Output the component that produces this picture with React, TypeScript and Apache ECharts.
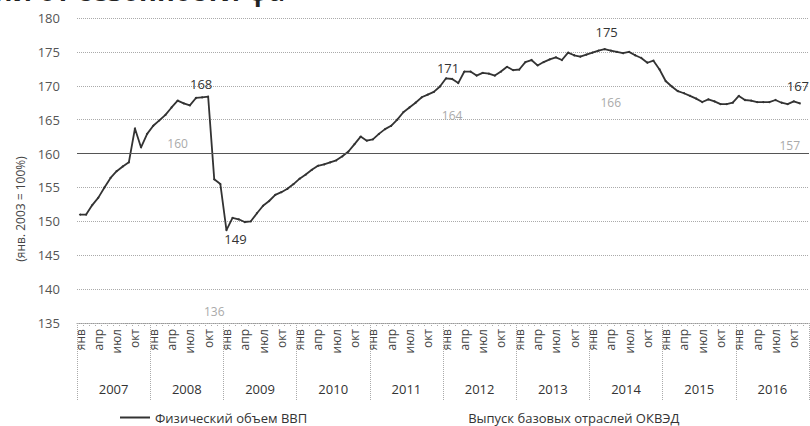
import React, { useEffect, useRef } from 'react';
import * as echarts from 'echarts';

const years = ['2007', '2008', '2009', '2010', '2011', '2012', '2013', '2014', '2015', '2016'];
const monthNames = ['янв', 'фев', 'мар', 'апр', 'май', 'июн', 'июл', 'авг', 'сен', 'окт', 'ноя', 'дек'];
const months = years.flatMap((y) => monthNames.map((m) => `${m} ${y}`));

// Физический объем ВВП, янв 2007 – ноя 2016
const gdpValues = [
  151.0, 151.0, 152.4, 153.5, 155.0, 156.4, 157.4, 158.1, 158.7, 163.7, 160.9, 162.9,
  164.1, 164.9, 165.7, 166.8, 167.8, 167.4, 167.1, 168.2, 168.3, 168.4, 156.2, 155.5,
  148.7, 150.5, 150.3, 149.9, 150.0, 151.2, 152.3, 153.0, 153.9, 154.3, 154.8, 155.5,
  156.3, 156.9, 157.6, 158.2, 158.4, 158.7, 159.0, 159.6, 160.3, 161.4, 162.5, 161.9,
  162.1, 162.9, 163.6, 164.1, 165.0, 166.1, 166.8, 167.5, 168.3, 168.7, 169.1, 169.9,
  171.1, 171.0, 170.4, 172.1, 172.1, 171.5, 171.9, 171.8, 171.5, 172.1, 172.8, 172.3,
  172.4, 173.5, 173.8, 173.0, 173.5, 173.9, 174.2, 173.8, 174.9, 174.5, 174.3, 174.6,
  174.9, 175.2, 175.4, 175.2, 175.0, 174.8, 175.0, 174.5, 174.1, 173.4, 173.7, 172.4,
  170.7, 169.9, 169.2, 168.9, 168.5, 168.1, 167.6, 168.0, 167.7, 167.3, 167.3, 167.5,
  168.5, 167.9, 167.8, 167.6, 167.6, 167.6, 167.9, 167.5, 167.3, 167.7, 167.4,
];
const gdpLabelMonths = ['окт 2008', 'янв 2009', 'янв 2012', 'мар 2014', 'ноя 2016'];

// Выпуск базовых отраслей ОКВЭД (only the labelled points are legible)
const baseMonths = ['май 2008', 'ноя 2008', 'фев 2012', 'апр 2014', 'окт 2016'];
const baseValues = [160, 136, 164, 166, 157];

const seriesNames = ['Физический объем ВВП', 'Выпуск базовых отраслей ОКВЭД'];
const yTitle = '(янв. 2003 = 100%)';
const headText = 'ии от сезонности фа';

const FONT = '"Open Sans", "Noto Sans", sans-serif';

export default function App() {
  const ref = useRef<HTMLDivElement>(null);
  useEffect(() => {
    if (!ref.current) return;
    const chart = echarts.init(ref.current, null, { renderer: 'svg' });

    const gdpLabelStyle: Record<string, any> = {
      'окт 2008': { position: 'top', offset: [-7, 0] },
      'янв 2009': { position: 'bottom', offset: [9, -4] },
      'янв 2012': { position: 'top', offset: [2, 2] },
      'мар 2014': { position: 'top', offset: [2, -5] },
      'ноя 2016': { position: 'top', offset: [-2, -5] },
    };
    const baseLabelStyle: Record<string, any> = {
      'ноя 2008': { offset: [0, 6] },
      'окт 2016': { offset: [-4, -18] },
    };

    const gdpData = gdpValues.map((v, i) => {
      const m = months[i];
      if (gdpLabelMonths.includes(m)) {
        return {
          value: v,
          label: {
            show: true,
            formatter: (p: any) => String(Math.round(p.value)),
            ...gdpLabelStyle[m],
          },
        };
      }
      return v;
    });

    const baseData = months.map((m) => {
      const k = baseMonths.indexOf(m);
      if (k < 0) return null;
      return {
        value: baseValues[k],
        label: { show: true, ...(baseLabelStyle[m] || {}) },
      };
    });

    chart.setOption({
      animation: false,
      textStyle: { fontFamily: FONT },
      grid: { left: 77, right: 1, top: 18, bottom: 103, containLabel: false },
      legend: {
        data: seriesNames,
        left: 120,
        top: 410,
        padding: 0,
        itemWidth: 30,
        itemHeight: 2,
        itemGap: 126,
        icon: 'rect',
        textStyle: { fontSize: 13, lineHeight: 15, color: '#333', fontFamily: FONT },
      },
      xAxis: [
        {
          type: 'category',
          data: months,
          boundaryGap: true,
          position: 'bottom',
          axisLine: { show: true, lineStyle: { color: '#999', type: 'dotted' } },
          axisTick: { show: true, interval: 0, length: 4, lineStyle: { color: '#aaa', type: 'dotted' } },
          axisLabel: {
            interval: 2,
            rotate: 90,
            margin: 6,
            fontSize: 12,
            color: '#444',
            formatter: (v: string) => v.split(' ')[0],
          },
          splitLine: { show: false },
        },
        {
          type: 'category',
          data: years,
          boundaryGap: true,
          position: 'bottom',
          axisLine: { show: false },
          axisTick: { show: true, interval: 0, length: 78, lineStyle: { color: '#aaa', type: 'dotted' } },
          axisLabel: { margin: 59, fontSize: 13, color: '#333' },
          splitLine: { show: false },
        },
      ],
      yAxis: {
        type: 'value',
        min: 135,
        max: 180,
        interval: 5,
        axisLine: { show: false },
        axisTick: { show: false },
        axisLabel: { margin: 17, fontSize: 13, color: '#555' },
        splitLine: { show: true, lineStyle: { color: '#aaa', type: 'dotted' } },
      },
      graphic: [
        {
          type: 'text',
          x: -7,
          y: -23,
          style: {
            text: headText,
            font: `bold 27px ${FONT}`,
            fill: '#222',
          },
        },
        {
          type: 'text',
          x: 20,
          y: 209,
          rotation: Math.PI / 2,
          style: {
            text: yTitle,
            font: `12px ${FONT}`,
            fill: '#444',
            align: 'center',
            verticalAlign: 'middle',
          },
        },
      ],
      series: [
        {
          name: seriesNames[0],
          type: 'line',
          xAxisIndex: 0,
          data: gdpData,
          symbol: 'circle',
          symbolSize: 2,
          showSymbol: true,
          showAllSymbol: true,
          color: '#333',
          lineStyle: { color: '#333', width: 1.8 },
          itemStyle: { color: '#333' },
          label: { show: false, fontSize: 13, color: '#333', distance: 5 },
          markLine: {
            silent: true,
            symbol: 'none',
            label: { show: false },
            lineStyle: { color: '#555', type: 'solid', width: 1 },
            data: [{ yAxis: 160 }],
          },
          z: 3,
        },
        {
          name: seriesNames[1],
          type: 'line',
          xAxisIndex: 0,
          data: baseData,
          symbol: 'circle',
          symbolSize: 1,
          showSymbol: true,
          showAllSymbol: true,
          color: 'rgba(0,0,0,0)',
          lineStyle: { color: 'rgba(0,0,0,0)', width: 2 },
          itemStyle: { color: 'rgba(0,0,0,0)' },
          label: { show: true, position: 'top', distance: 4, fontSize: 12, color: '#aaa' },
          z: 2,
        },
      ],
    });

    return () => chart.dispose();
  }, []);

  return (
    <div
      ref={ref}
      style={{ position: 'fixed', left: 0, top: 0, width: 810, height: 426, background: '#fff' }}
    />
  );
}
